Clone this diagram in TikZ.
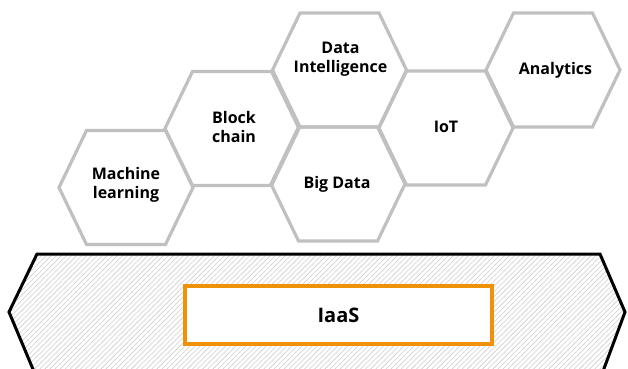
\documentclass[tikz,border=0pt]{standalone}
\usepackage{fontspec}
\setmainfont{Open Sans}
\usetikzlibrary{patterns.meta}
\definecolor{hexgray}{RGB}{192,192,192}
\definecolor{hatchgray}{RGB}{205,205,205}
\definecolor{iaasorange}{RGB}{240,145,10}
\tikzset{
  hexline/.style={draw=hexgray, line width=3.2pt, line join=miter},
  hextext/.style={align=center, font=\bfseries\fontsize{16}{19}\selectfont, inner sep=0pt},
  platform/.style={draw=black, line width=3pt, line join=miter,
     pattern={Lines[angle=45,distance=3.6pt,line width=0.6pt]}, pattern color=hatchgray},
  iaasbox/.style={draw=iaasorange, line width=3.5pt, fill=white, minimum width=307pt,
     minimum height=58pt, inner sep=0pt, font=\bfseries\fontsize{20}{24}\selectfont}
}
\newcommand\hexat[1]{\draw[hexline] (#1) ++(-39.5,-57) -- ++(79,0) -- ++(27.5,57) -- ++(-27.5,57) -- ++(-79,0) -- ++(-27.5,-57) -- cycle;}
\begin{document}
\begin{tikzpicture}[x=1pt,y=-1pt]
\useasboundingbox (0,0) rectangle (628,368);
% hexagon centres
\coordinate (cml) at (126,187.5);
\coordinate (cbc) at (232,128.5);
\coordinate (cdi) at (339.5,70);
\coordinate (cbd) at (338,184);
\coordinate (ciot) at (446,128);
\coordinate (can) at (553,70);
\hexat{cml}
\hexat{cbc}
\hexat{cdi}
\hexat{cbd}
\hexat{ciot}
\hexat{can}
\node[hextext] (ml) at (126,184.5) {Machine\\learning};
\node[hextext] (bc) at (234,127) {Block\\chain};
\node[hextext] (di) at (340.5,59) {Data\\Intelligence};
\node[hextext] (bd) at (337,184) {Big Data};
\node[hextext] (iot) at (446,127) {IoT};
\node[hextext] (an) at (555.5,70) {Analytics};
% platform
\path[platform] (37,254) coordinate (p1) -- (600,254) coordinate (p2) -- (625,312) coordinate (p3)
  -- (602,374) coordinate (p4) -- (35,374) coordinate (p5) -- (9,312) coordinate (p6) -- cycle;
\node[iaasbox] (iaas) at (338.5,315) {IaaS};
\end{tikzpicture}
\end{document}
